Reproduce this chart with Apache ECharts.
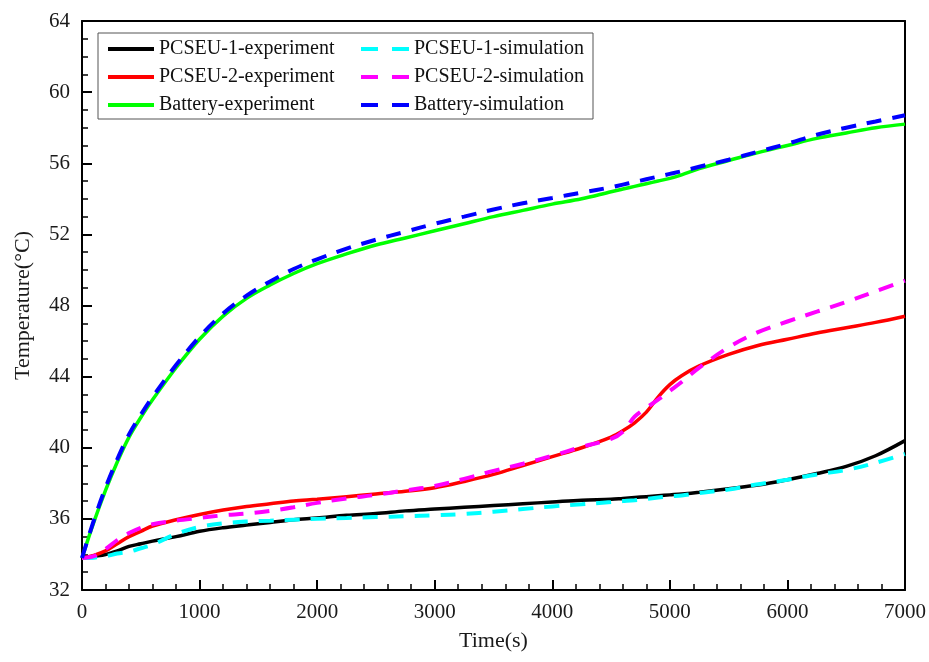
<!DOCTYPE html>
<html>
<head>
<meta charset="utf-8">
<script src="https://cdn.jsdelivr.net/npm/echarts@6/dist/echarts.min.js"></script>
<style>html,body{margin:0;padding:0;background:#fff;}#chart{width:929px;height:662px;}</style>
</head>
<body>
<div id="chart"></div>
<script>
const times = [0,100,200,300,400,500,600,800,1000,1200,1400,1600,1800,2000,2250,2500,2750,3000,3250,3500,3750,4000,4250,4500,4600,4700,4800,4900,5000,5100,5250,5500,5750,6000,6250,6500,6750,7000];
const pcseu1Exp = [33.8,33.9,34.0,34.2,34.45,34.6,34.75,35.0,35.3,35.5,35.65,35.8,35.95,36.05,36.2,36.3,36.45,36.55,36.65,36.75,36.85,36.95,37.05,37.1,37.15,37.2,37.25,37.3,37.35,37.4,37.5,37.7,37.9,38.2,38.55,38.95,39.55,40.4];
const pcseu2Exp = [33.8,33.95,34.2,34.6,35.0,35.3,35.6,35.95,36.25,36.5,36.7,36.85,37.0,37.1,37.25,37.4,37.55,37.75,38.1,38.5,39.0,39.5,40.0,40.6,40.95,41.4,42.0,42.85,43.55,44.05,44.6,45.25,45.75,46.1,46.45,46.75,47.05,47.4];
const batteryExp = [33.8,35.8,37.6,39.2,40.6,41.7,42.7,44.5,46.1,47.4,48.4,49.15,49.8,50.35,50.9,51.4,51.8,52.2,52.6,53.0,53.35,53.7,54.0,54.4,54.55,54.7,54.85,55.0,55.15,55.35,55.7,56.15,56.6,57.0,57.4,57.7,58.0,58.2];
const pcseu1Sim = [33.8,33.82,33.9,34.05,34.15,34.35,34.55,35.15,35.55,35.75,35.85,35.9,35.95,36.0,36.05,36.1,36.15,36.2,36.28,36.4,36.55,36.7,36.82,36.95,37.0,37.05,37.12,37.2,37.27,37.32,37.45,37.65,37.95,38.2,38.5,38.75,39.15,39.65];
const pcseu2Sim = [33.8,33.9,34.3,34.8,35.2,35.5,35.7,35.9,36.05,36.2,36.3,36.45,36.65,36.9,37.15,37.35,37.6,37.85,38.25,38.7,39.1,39.55,40.05,40.5,40.9,41.75,42.25,42.7,43.2,43.7,44.5,45.65,46.5,47.1,47.65,48.2,48.8,49.4];
const batterySim = [33.8,35.9,37.75,39.35,40.75,41.85,42.85,44.65,46.25,47.55,48.55,49.35,50.05,50.6,51.2,51.7,52.15,52.6,53.0,53.4,53.75,54.05,54.35,54.65,54.8,54.95,55.1,55.25,55.4,55.55,55.8,56.2,56.65,57.1,57.6,58.0,58.35,58.7];

const names = ['PCSEU-1-experiment','PCSEU-2-experiment','Battery-experiment','PCSEU-1-simulation','PCSEU-2-simulation','Battery-simulation'];
const colors = ['#000000','#ff0000','#00ff00','#00ffff','#ff00ff','#0000ff'];
const values = [pcseu1Exp, pcseu2Exp, batteryExp, pcseu1Sim, pcseu2Sim, batterySim];
const xTicks = [0,1000,2000,3000,4000,5000,6000,7000];
const yTicks = [32,36,40,44,48,52,56,60,64];

const FONT = "'Liberation Serif','Times New Roman',serif";
const SOLID_ICON = 'path://M0,0H46V4H0Z';
const DASH_ICON = 'path://M0,0H17V4H0ZM31,0H48V4H31Z';
const chart = echarts.init(document.getElementById('chart'), null, {renderer:'canvas'});

const series = names.map((n, i) => ({
  name: n,
  type: 'line',
  data: times.map((t, k) => [t, values[i][k]]),
  showSymbol: false,
  symbol: 'none',
  smooth: 0.35,
  xAxisIndex: 0, yAxisIndex: 0,
  lineStyle: {color: colors[i], width: i < 3 ? 3.5 : 4, type: i < 3 ? 'solid' : [15, 11]},
  itemStyle: {color: colors[i]},
  z: i < 3 ? 2 : 3
}));

const axisLabelStyle = {fontFamily: FONT, fontSize: 21, color: '#1a1a1a'};

const legendCommon = {
  orient: 'vertical', top: 39,
  itemHeight: 4, itemGap: 8, padding: 0,
  textStyle: {fontFamily: FONT, fontSize: 20, color: '#111', lineHeight: 20}
};

chart.setOption({
  animation: false,
  backgroundColor: '#ffffff',
  grid: {left: 82, right: 23, top: 21, bottom: 72, containLabel: false},
  xAxis: [{
    type: 'value', min: xTicks[0], max: xTicks[xTicks.length-1], interval: 1000,
    name: 'Time(s)', nameLocation: 'middle', nameGap: 40,
    nameTextStyle: {fontFamily: FONT, fontSize: 22, color: '#1a1a1a'},
    axisLine: {show: true, onZero: false, lineStyle: {color: '#000', width: 2}},
    axisTick: {show: true, inside: true, length: 10, lineStyle: {color: '#000', width: 2}},
    minorTick: {show: true, splitNumber: 5, length: 6, lineStyle: {color: '#000', width: 1.5}},
    splitLine: {show: false},
    axisLabel: Object.assign({margin: 12, formatter: v => String(v)}, axisLabelStyle)
  }, {
    type: 'value', position: 'top', min: 0, max: 7000,
    axisLine: {show: true, onZero: false, lineStyle: {color: '#000', width: 2}},
    axisTick: {show: false}, axisLabel: {show: false}, splitLine: {show: false}
  }],
  yAxis: [{
    type: 'value', min: yTicks[0], max: yTicks[yTicks.length-1], interval: 4,
    name: 'Temperature(°C)', nameLocation: 'middle', nameGap: 48,
    nameTextStyle: {fontFamily: FONT, fontSize: 22, color: '#1a1a1a'},
    axisLine: {show: true, onZero: false, lineStyle: {color: '#000', width: 2}},
    axisTick: {show: true, inside: true, length: 10, lineStyle: {color: '#000', width: 2}},
    minorTick: {show: true, splitNumber: 4, length: 6, lineStyle: {color: '#000', width: 1.5}},
    splitLine: {show: false},
    axisLabel: Object.assign({margin: 12}, axisLabelStyle)
  }, {
    type: 'value', position: 'right', min: 32, max: 64,
    axisLine: {show: true, onZero: false, lineStyle: {color: '#000', width: 2}},
    axisTick: {show: false}, axisLabel: {show: false}, splitLine: {show: false}
  }],
  legend: [
    Object.assign({data: names.slice(0, 3).map(n => ({name: n, icon: SOLID_ICON})), left: 108, itemWidth: 46}, legendCommon),
    Object.assign({data: names.slice(3).map(n => ({name: n, icon: DASH_ICON})), left: 361, itemWidth: 48}, legendCommon)
  ],
  graphic: [{
    type: 'rect', z: 100, silent: true,
    shape: {x: 98, y: 33, width: 495, height: 86},
    style: {fill: 'none', stroke: '#555', lineWidth: 1}
  }],
  series: series
});
</script>
</body>
</html>
